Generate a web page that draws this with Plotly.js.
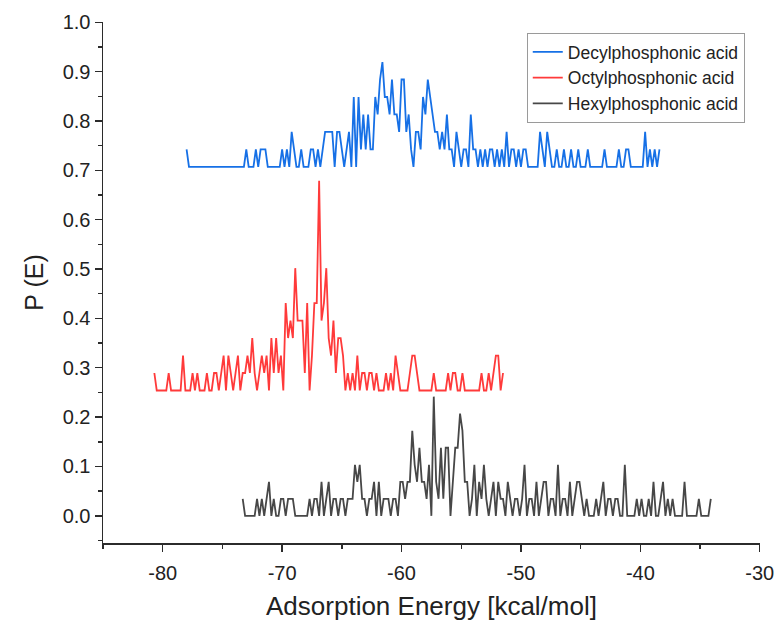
<!DOCTYPE html>
<html>
<head>
<meta charset="utf-8">
<script src="https://cdn.plot.ly/plotly-3.0.1.min.js"></script>
<style>html,body{margin:0;padding:0;background:#fff;}#chart{width:776px;height:621px;}</style>
</head>
<body>
<div id="chart"></div>
<script>
// Histogram bin grid (kcal/mol)
const binWidth = 0.2;
const decylStart = -78.0;
const octylStart = -80.7;
const hexylStart = -73.3;

// Bin counts
const decylCounts = [
1,0,0,0,0,0,0,0,0,0,0,0,0,0,0,0,0,0,0,0,
0,0,0,0,0,1,0,0,0,1,0,1,1,1,0,0,0,0,0,0,
1,0,1,0,2,1,0,0,1,0,0,0,1,1,0,1,0,1,2,2,
2,2,0,2,2,1,0,1,2,0,4,0,4,1,3,1,3,1,1,4,
3,5,6,4,4,3,5,3,3,2,5,5,2,3,1,0,2,2,1,4,
3,5,4,3,2,2,1,2,1,3,1,1,0,2,1,0,1,1,0,3,
1,1,0,1,0,1,0,1,1,0,1,0,1,0,2,0,1,1,0,1,
0,1,1,0,0,0,0,0,2,1,0,2,1,0,0,1,0,0,1,0,
0,1,0,0,1,0,0,0,1,0,0,0,0,0,0,1,0,0,0,0,
0,1,0,0,1,1,0,0,0,0,0,0,2,0,1,0,1,0,1];
const octylCounts = [
1,0,0,0,0,0,1,0,0,0,0,0,2,0,0,0,1,0,1,0,
0,0,1,0,0,1,1,0,1,2,0,2,1,0,1,2,0,1,1,2,
1,3,1,0,1,2,1,2,0,3,1,3,1,2,0,5,3,4,3,7,
4,4,4,1,5,0,2,5,5,12,4,5,7,3,2,4,1,3,3,2,
0,1,0,1,0,2,0,1,1,0,1,1,0,1,0,0,0,1,0,1,
0,2,1,0,0,0,0,1,2,2,1,0,0,0,0,0,0,1,0,0,
0,0,0,1,0,1,1,0,0,1,0,0,0,0,0,0,0,1,0,0,
1,0,1,2,2,0,1];
const hexylCounts = [
1,0,0,0,0,0,1,0,1,0,1,2,0,1,0,0,1,1,0,1,
1,1,0,0,0,0,0,0,1,0,1,1,0,2,0,1,2,0,1,1,
0,1,1,0,1,1,1,3,2,3,1,1,0,1,1,2,0,2,0,1,
1,1,0,1,1,0,2,2,1,2,2,5,3,2,4,2,2,1,3,0,
7,2,1,4,1,4,4,0,2,4,4,6,5,2,2,0,1,3,0,2,
1,3,1,0,1,2,0,2,1,1,0,2,1,0,1,1,0,1,3,0,
1,1,0,2,0,1,2,2,0,1,1,0,3,0,1,1,0,2,0,1,
2,2,1,0,1,0,0,0,1,0,1,2,0,1,1,0,1,1,0,0,
3,0,0,0,0,1,0,1,0,0,1,0,2,0,0,1,2,0,1,0,
1,0,0,0,0,2,0,0,0,0,0,1,0,0,0,0,1];

// Vertical offsets and probability per count
const decylOffset = 0.707, decylUnit = 0.0354;
const octylOffset = 0.254, octylUnit = 0.0354;
const hexylOffset = 0.0,   hexylUnit = 0.0345;

const seriesNames = ['Decylphosphonic acid', 'Octylphosphonic acid', 'Hexylphosphonic acid'];
const seriesColors = ['#1670e6', '#ff3a3a', '#474747'];

// Axis tick labels
const xTickVals = [-80, -70, -60, -50, -40, -30];
const xTickText = ['-80', '-70', '-60', '-50', '-40', '-30'];
const yTickVals = [0.0, 0.1, 0.2, 0.3, 0.4, 0.5, 0.6, 0.7, 0.8, 0.9, 1.0];
const yTickText = ['0.0', '0.1', '0.2', '0.3', '0.4', '0.5', '0.6', '0.7', '0.8', '0.9', '1.0'];

function build(counts, start, offset, unit) {
  return {
    x: counts.map((c, i) => +(start + i * binWidth).toFixed(3)),
    y: counts.map(c => +(offset + c * unit).toFixed(4))
  };
}
const sets = [
  build(decylCounts, decylStart, decylOffset, decylUnit),
  build(octylCounts, octylStart, octylOffset, octylUnit),
  build(hexylCounts, hexylStart, hexylOffset, hexylUnit)
];

const traces = sets.map((s, k) => ({
  type: 'scatter', mode: 'lines', x: s.x, y: s.y, name: seriesNames[k],
  line: {color: seriesColors[k], width: 1.8}
}));

const font = 'Liberation Sans, Arial, sans-serif';
const axisCommon = {
  showline: true, linecolor: '#2b2b2b', linewidth: 1.5, mirror: false,
  showgrid: false, zeroline: false,
  ticks: 'outside', ticklen: 7, tickwidth: 1.4, tickcolor: '#2b2b2b',
  tickfont: {family: font, size: 20, color: '#222'}
};

const layout = {
  width: 776, height: 621,
  margin: {l: 103, r: 16, t: 22, b: 78},
  paper_bgcolor: '#fff', plot_bgcolor: '#fff',
  font: {family: font, color: '#222'},
  showlegend: true,
  legend: {
    x: 0.645, y: 0.979, xanchor: 'left', yanchor: 'top',
    bordercolor: '#9a9a9a', borderwidth: 1, bgcolor: '#fff',
    font: {family: font, size: 17.5, color: '#222'},
    tracegroupgap: 0
  },
  xaxis: Object.assign({}, axisCommon, {
    range: [-85, -29.98], tickmode: 'array', tickvals: xTickVals, ticktext: xTickText,
    ticklabelstandoff: 4,
    minor: {dtick: 5, tick0: -85, ticklen: 4, tickwidth: 1.4, tickcolor: '#2b2b2b', ticks: 'outside'},
    title: {text: 'Adsorption Energy [kcal/mol]', font: {family: font, size: 26, color: '#222'}, standoff: 16}
  }),
  yaxis: Object.assign({}, axisCommon, {
    range: [-0.055, 1.0005], tickmode: 'array', tickvals: yTickVals, ticktext: yTickText,
    minor: {dtick: 0.05, tick0: 0, ticklen: 4, tickwidth: 1.4, tickcolor: '#2b2b2b', ticks: 'outside'},
    title: {text: 'P (E)', font: {family: font, size: 25, color: '#222'}, standoff: 12}
  })
};

Plotly.newPlot('chart', traces, layout, {displayModeBar: false, staticPlot: true});
</script>
</body>
</html>
